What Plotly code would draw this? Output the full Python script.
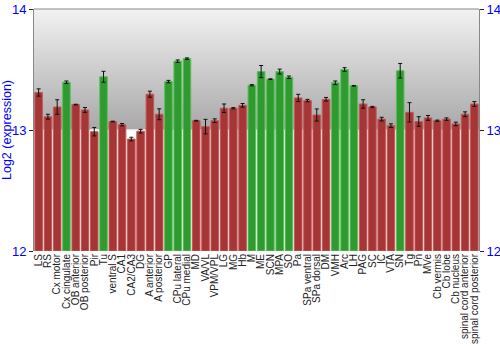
import plotly.graph_objects as go

categories = ["LS", "RS", "Cx motor", "Cx cingulate", "OB anterior", "OB posterior", "Pir", "Tu",
              "ventral S", "CA1", "CA2/CA3", "DG", "A anterior", "A posterior", "GP", "CPu lateral",
              "CPu medial", "MD", "VA/VL", "VPM/VPL", "LG", "MG", "Hb", "M", "ME", "SCN", "MPA", "SO",
              "Pa", "SPa ventral", "SPa dorsal", "DM", "VMH", "Arc", "LH", "PAG", "SC", "IC", "VTA",
              "SN", "Tg", "Pn", "MVe", "Cb vermis", "Cb lobe", "Cb nucleus", "spinal cord anterior",
              "spinal cord posterior"]
values = [13.31, 13.11, 13.19, 13.395, 13.21, 13.166, 12.986, 13.44,
          13.07, 13.044, 12.925, 12.99, 13.296, 13.13, 13.40, 13.569,
          13.59, 13.077, 13.028, 13.077, 13.18, 13.18, 13.204, 13.37, 13.483, 13.42, 13.483, 13.436,
          13.265, 13.243, 13.124, 13.254, 13.39, 13.50, 13.365, 13.215, 13.19, 13.09, 13.036,
          13.49, 13.146, 13.07, 13.10, 13.077, 13.09, 13.05, 13.13,
          13.215]
errors = [0.03, 0.02, 0.06, 0.01, 0.003, 0.02, 0.035, 0.045,
          0.003, 0.01, 0.015, 0.015, 0.025, 0.045, 0.01, 0.01,
          0.006, 0.003, 0.06, 0.015, 0.035, 0.005, 0.015, 0.005, 0.05, 0.003, 0.02, 0.01,
          0.03, 0.01, 0.05, 0.015, 0.015, 0.015, 0.003, 0.035, 0.005, 0.015, 0.015,
          0.06, 0.08, 0.04, 0.02, 0.005, 0.01, 0.015, 0.02,
          0.02]
highlighted = {"Cx cingulate", "Tu", "GP", "CPu lateral", "CPu medial", "M", "ME", "SCN", "MPA",
               "SO", "VMH", "Arc", "LH", "SN"}

y_min, y_mid, y_max = 12, 13, 14
idx = list(range(len(categories)))
n = len(categories)

fill_colors = ["#2f9a2f" if c in highlighted else "#a63535" for c in categories]
line_colors = ["#5cc05c" if c in highlighted else "#c45a5a" for c in categories]

fig = go.Figure()

# background gradient in upper half (main axes, drawn beneath the overlaid bar axes)
fig.add_trace(go.Scatter(
    x=[-0.5, n - 0.5, n - 0.5, -0.5, -0.5], y=[y_mid, y_mid, y_max, y_max, y_mid],
    mode="lines", line=dict(width=0), fill="toself",
    fillgradient=dict(type="vertical", colorscale=[[0, "#a8a8a8"], [1, "#f2f2f2"]]),
    hoverinfo="skip", showlegend=False, xaxis="x", yaxis="y"))
fig.add_trace(go.Scatter(
    x=[-0.5, n - 0.5], y=[y_mid, y_mid], mode="lines",
    line=dict(color="#f4f4f4", width=1.5), hoverinfo="skip", showlegend=False,
    xaxis="x", yaxis="y"))

fig.add_trace(go.Bar(
    x=idx, y=[v - y_min for v in values], base=y_min, width=0.82,
    marker=dict(color=fill_colors, line=dict(color=line_colors, width=1)),
    error_y=dict(type="data", array=errors, visible=True, color="#111111", thickness=1, width=2),
    showlegend=False, xaxis="x2", yaxis="y2"))

tick_font = dict(color="#0000ff", size=13, family="Liberation Sans, Arial")
fig.update_layout(
    width=500, height=350,
    margin=dict(l=34, r=21, t=9, b=99),
    paper_bgcolor="white", plot_bgcolor="white",
    font=dict(family="Liberation Sans, Arial", size=10, color="#222222"),
    xaxis=dict(range=[-0.5, n - 0.5], tickmode="array", tickvals=idx, ticktext=categories,
               tickangle=-90, showgrid=False, zeroline=False, ticks="", showline=False,
               automargin=False, tickfont=dict(size=10, color="#222222")),
    xaxis2=dict(range=[-0.5, n - 0.5], overlaying="x", anchor="y2", showticklabels=False,
                showgrid=False, zeroline=False, ticks="", showline=False, automargin=False),
    yaxis=dict(range=[y_min, y_max], tickvals=[12, 13, 14], showgrid=False, zeroline=False,
               showline=True, linecolor="#888888", linewidth=1, mirror=False, automargin=False,
               ticks="outside", ticklen=4, tickcolor="#222222", tickfont=tick_font,
               title=dict(text="Log2 (expression)", font=dict(color="#0000ff", size=12.5),
                          standoff=2)),
    yaxis2=dict(range=[y_min, y_max], tickvals=[12, 13, 14], overlaying="y", side="right",
                anchor="x2", showgrid=False, zeroline=False, showline=True, linecolor="#888888",
                automargin=False,
                ticks="outside", ticklen=4, tickcolor="#222222", tickfont=tick_font),
    shapes=[dict(type="line", xref="paper", yref="paper", x0=0, x1=1, y0=1, y1=1,
                 line=dict(color="#888888", width=1))],
)

fig.write_html("out.html")
